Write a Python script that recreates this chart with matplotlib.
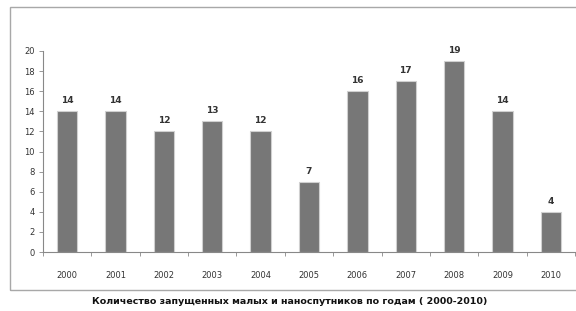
import matplotlib
matplotlib.use("Agg")
import matplotlib.pyplot as plt
from matplotlib.patches import Rectangle

years = ["2000", "2001", "2002", "2003", "2004", "2005", "2006", "2007", "2008", "2009", "2010"]
launches = [14, 14, 12, 13, 12, 7, 16, 17, 19, 14, 4]
caption = "Количество запущенных малых и наноспутников по годам ( 2000-2010)"

W, H = 576, 311
fig = plt.figure(figsize=(W / 100, H / 100), dpi=100)

# outer chart frame (right side runs off the picture)
fig.patches.append(Rectangle((10 / W, 1 - 290 / H), 600 / W, 283 / H,
                             transform=fig.transFigure, fill=False,
                             edgecolor="#a8a8a8", linewidth=1.0))

ax = fig.add_axes([43 / W, 1 - 252 / H, 532 / W, 201 / H])
x = list(range(len(years)))
ax.bar(x, launches, width=0.42, color="#777777", edgecolor="#d0d0d0", linewidth=0.8)

for xi, v in zip(x, launches):
    ax.text(xi, v + 0.6, str(v), ha="center", va="bottom",
            fontsize=6.5, fontweight="bold", color="#333333")

ax.set_xlim(-0.5, len(years) - 0.5)
ax.set_ylim(0, 20)
ax.set_yticks(range(0, 21, 2))
ax.tick_params(axis="y", labelsize=6, labelcolor="#333333", length=3, width=0.6,
               direction="out", pad=3, color="#888888")

# category labels centered, tick marks at boundaries
ax.set_xticks(x)
ax.set_xticklabels(years)
ax.tick_params(axis="x", which="major", length=0, labelsize=6, labelcolor="#333333", pad=14)
ax.set_xticks([i - 0.5 for i in range(len(years) + 1)], minor=True)
ax.tick_params(axis="x", which="minor", length=3, width=0.6, color="#888888", direction="out")

for s in ("top", "right"):
    ax.spines[s].set_visible(False)
for s in ("left", "bottom"):
    ax.spines[s].set_color("#888888")
    ax.spines[s].set_linewidth(0.8)

fig.text(290 / W, 1 - 301 / H, caption, ha="center", va="center",
         fontsize=6.8, fontweight="bold", color="#111111")

plt.savefig("out.png", dpi=100)
